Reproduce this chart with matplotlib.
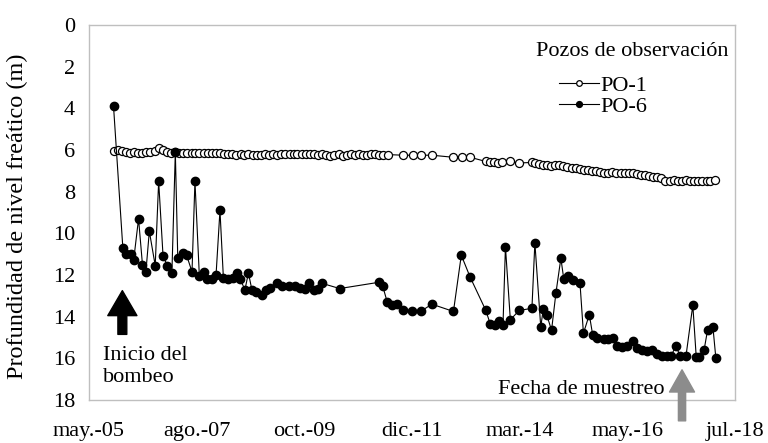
import matplotlib
matplotlib.use('Agg')
import matplotlib.pyplot as plt

plt.rcParams['font.family'] = ['Liberation Serif', 'DejaVu Serif']

# fechas en años decimales, profundidad en m
po6_year = [2005.83, 2006.02, 2006.08, 2006.18, 2006.24, 2006.34, 2006.42, 2006.49, 2006.56, 2006.68,
            2006.75, 2006.84, 2006.93, 2007.02, 2007.09, 2007.14, 2007.24, 2007.32, 2007.43, 2007.49,
            2007.58, 2007.68, 2007.73, 2007.83, 2007.92, 2008.00, 2008.07, 2008.17, 2008.27, 2008.34,
            2008.41, 2008.51, 2008.58, 2008.65, 2008.74, 2008.85, 2008.93, 2009.02, 2009.16, 2009.26,
            2009.40, 2009.53, 2009.63, 2009.74, 2009.82, 2009.91, 2009.99, 2010.08, 2010.44, 2011.24,
            2011.32, 2011.41, 2011.50, 2011.61, 2011.73, 2011.91, 2012.09, 2012.32, 2012.76, 2012.92,
            2013.10, 2013.42, 2013.51, 2013.61, 2013.69, 2013.77, 2013.82, 2013.92, 2014.10, 2014.36,
            2014.42, 2014.54, 2014.59, 2014.66, 2014.76, 2014.85, 2014.95, 2015.01, 2015.10, 2015.20,
            2015.34, 2015.41, 2015.53, 2015.60, 2015.69, 2015.82, 2015.92, 2016.02, 2016.09, 2016.19,
            2016.29, 2016.43, 2016.50, 2016.60, 2016.70, 2016.80, 2016.90, 2017.01, 2017.11, 2017.19,
            2017.30, 2017.38, 2017.50, 2017.64, 2017.71, 2017.77, 2017.87, 2017.94, 2018.05, 2018.11]
po6_depth = [3.9, 10.7, 11.0, 11.0, 11.3, 9.3, 11.5, 11.85, 9.9, 11.55,
             7.5, 11.1, 11.55, 11.9, 6.1, 11.2, 10.95, 11.05, 11.85, 7.5,
             12.05, 11.85, 12.2, 12.2, 12.0, 8.9, 12.15, 12.2, 12.15, 11.9,
             12.2, 12.7, 11.9, 12.7, 12.8, 12.95, 12.7, 12.6, 12.4, 12.55,
             12.55, 12.55, 12.6, 12.65, 12.4, 12.7, 12.65, 12.4, 12.65, 12.35,
             12.55, 13.3, 13.45, 13.4, 13.7, 13.75, 13.75, 13.4, 13.75, 11.05,
             12.1, 13.7, 14.35, 14.4, 14.2, 14.4, 10.65, 14.15, 13.7, 13.6,
             10.45, 14.5, 13.65, 13.9, 14.65, 12.85, 11.2, 12.2, 12.05, 12.25,
             12.4, 14.8, 13.9, 14.9, 15.0, 15.05, 15.05, 15.0, 15.4, 15.45,
             15.4, 15.15, 15.5, 15.6, 15.65, 15.6, 15.8, 15.9, 15.9, 15.9,
             15.4, 15.9, 15.9, 13.45, 15.95, 15.95, 15.6, 14.65, 14.5, 16.0]

po1_year = [2005.83, 2005.92,
            2006.00, 2006.08, 2006.17, 2006.25, 2006.33, 2006.42, 2006.50, 2006.58, 2006.67, 2006.75, 2006.83, 2006.92,
            2007.00, 2007.08, 2007.17, 2007.25, 2007.33, 2007.42, 2007.50, 2007.58, 2007.67, 2007.75, 2007.83, 2007.92,
            2008.00, 2008.08, 2008.17, 2008.25, 2008.33, 2008.42, 2008.50, 2008.58, 2008.67, 2008.75, 2008.83, 2008.92,
            2009.00, 2009.08, 2009.17, 2009.25, 2009.33, 2009.42, 2009.50, 2009.58, 2009.67, 2009.75, 2009.83, 2009.92,
            2010.00, 2010.08, 2010.17, 2010.25, 2010.33, 2010.42, 2010.50, 2010.58, 2010.67, 2010.75, 2010.83, 2010.92,
            2011.00, 2011.08, 2011.17, 2011.25, 2011.33, 2011.42,
            2011.73, 2011.93, 2012.10, 2012.32, 2012.76, 2012.93, 2013.10,
            2013.42, 2013.50, 2013.58, 2013.67, 2013.75, 2013.92, 2014.10,
            2014.36, 2014.42, 2014.50, 2014.58, 2014.67, 2014.75, 2014.83, 2014.92,
            2015.00, 2015.08, 2015.17, 2015.25, 2015.33, 2015.42, 2015.50, 2015.58, 2015.67, 2015.75, 2015.83, 2015.92,
            2016.00, 2016.08, 2016.17, 2016.25, 2016.33, 2016.42, 2016.50, 2016.58, 2016.67, 2016.75, 2016.83, 2016.92,
            2017.00, 2017.08, 2017.17, 2017.25, 2017.33, 2017.42, 2017.50, 2017.58, 2017.67, 2017.75, 2017.83, 2017.92,
            2018.00, 2018.10]
po1_depth = [6.05, 6.0,
             6.05, 6.1, 6.12, 6.1, 6.12, 6.12, 6.1, 6.08, 6.05, 5.92, 6.02, 6.1,
             6.12, 6.1, 6.12, 6.15, 6.12, 6.15, 6.12, 6.15, 6.15, 6.12, 6.15, 6.15,
             6.15, 6.2, 6.18, 6.2, 6.22, 6.2, 6.22, 6.2, 6.22, 6.25, 6.22, 6.2,
             6.22, 6.2, 6.22, 6.18, 6.2, 6.2, 6.18, 6.2, 6.2, 6.18, 6.2, 6.2,
             6.22, 6.2, 6.25, 6.3, 6.25, 6.2, 6.28, 6.22, 6.2, 6.25, 6.2, 6.22,
             6.25, 6.18, 6.2, 6.22, 6.25, 6.22,
             6.25, 6.25, 6.25, 6.25, 6.35, 6.35, 6.35,
             6.55, 6.6, 6.6, 6.62, 6.6, 6.55, 6.62,
             6.6, 6.62, 6.65, 6.7, 6.72, 6.75, 6.72, 6.7,
             6.75, 6.8, 6.85, 6.85, 6.9, 6.95, 6.98, 7.0, 7.02, 7.05, 7.08, 7.08,
             7.05, 7.1, 7.12, 7.12, 7.1, 7.12, 7.15, 7.18, 7.2, 7.25, 7.28, 7.3,
             7.35, 7.5, 7.48, 7.45, 7.48, 7.47, 7.46, 7.48, 7.5, 7.5, 7.48, 7.48,
             7.47, 7.43]

tick_years = [2005.33, 2007.53, 2009.72, 2011.92, 2014.11, 2016.31, 2018.50]
tick_labels = ['may.-05', 'ago.-07', 'oct.-09', 'dic.-11', 'mar.-14', 'may.-16', 'jul.-18']

fig = plt.figure(figsize=(7.68, 4.43), dpi=100)
ax = fig.add_axes([89/768, 1 - 400/443, 646/768, 375/443])

ax.plot(po1_year, po1_depth, '-o', color='black', lw=0.8, ms=5.8,
        mfc='white', mec='black', mew=0.9, label='PO-1', zorder=3)
ax.plot(po6_year, po6_depth, '-o', color='black', lw=0.8, ms=6.0,
        mfc='black', mec='black', label='PO-6', zorder=3)

ax.set_xlim(2005.333, 2018.5)
ax.set_ylim(18, 0)
ax.set_yticks(range(0, 19, 2))
ax.set_xticks(tick_years)
ax.set_xticklabels(tick_labels)
ax.tick_params(length=0, labelsize=16)
ax.tick_params(axis='x', pad=16)
ax.tick_params(axis='y', pad=10)
for s in ax.spines.values():
    s.set_color('#bfbfbf')
    s.set_linewidth(1.0)
ax.set_ylabel('Profundidad de nivel freático (m)', fontsize=17.5)
ax.yaxis.set_label_coords(-0.095, 0.49)

# leyenda
ax.text(0.99, 0.93, 'Pozos de observación', transform=ax.transAxes,
        ha='right', va='center', fontsize=16)
ax.legend(loc='upper left', bbox_to_anchor=(0.71, 0.895), frameon=False,
          fontsize=16, handlelength=1.8, handletextpad=0.05, labelspacing=0.0,
          borderpad=0, markerscale=0.7)

# flechas
ax.annotate('', xy=(2006.01, 12.75), xytext=(2006.01, 14.85),
            arrowprops=dict(arrowstyle='simple,head_length=0.9,head_width=1.05,tail_width=0.32',
                            color='black', shrinkA=0, shrinkB=0, mutation_scale=20),
            annotation_clip=False)
ax.text(2005.62, 16.4, 'Inicio del\nbombeo', fontsize=16, ha='left', va='center',
        linespacing=1.2)

ax.annotate('', xy=(2017.42, 16.55), xytext=(2017.42, 19.0),
            arrowprops=dict(arrowstyle='simple,head_length=0.8,head_width=0.9,tail_width=0.26',
                            color='#8c8c8c', shrinkA=0, shrinkB=0, mutation_scale=20),
            annotation_clip=False)
ax.text(2017.07, 17.5, 'Fecha de muestreo', fontsize=16, ha='right', va='center')

fig.savefig('out.png', dpi=100)
